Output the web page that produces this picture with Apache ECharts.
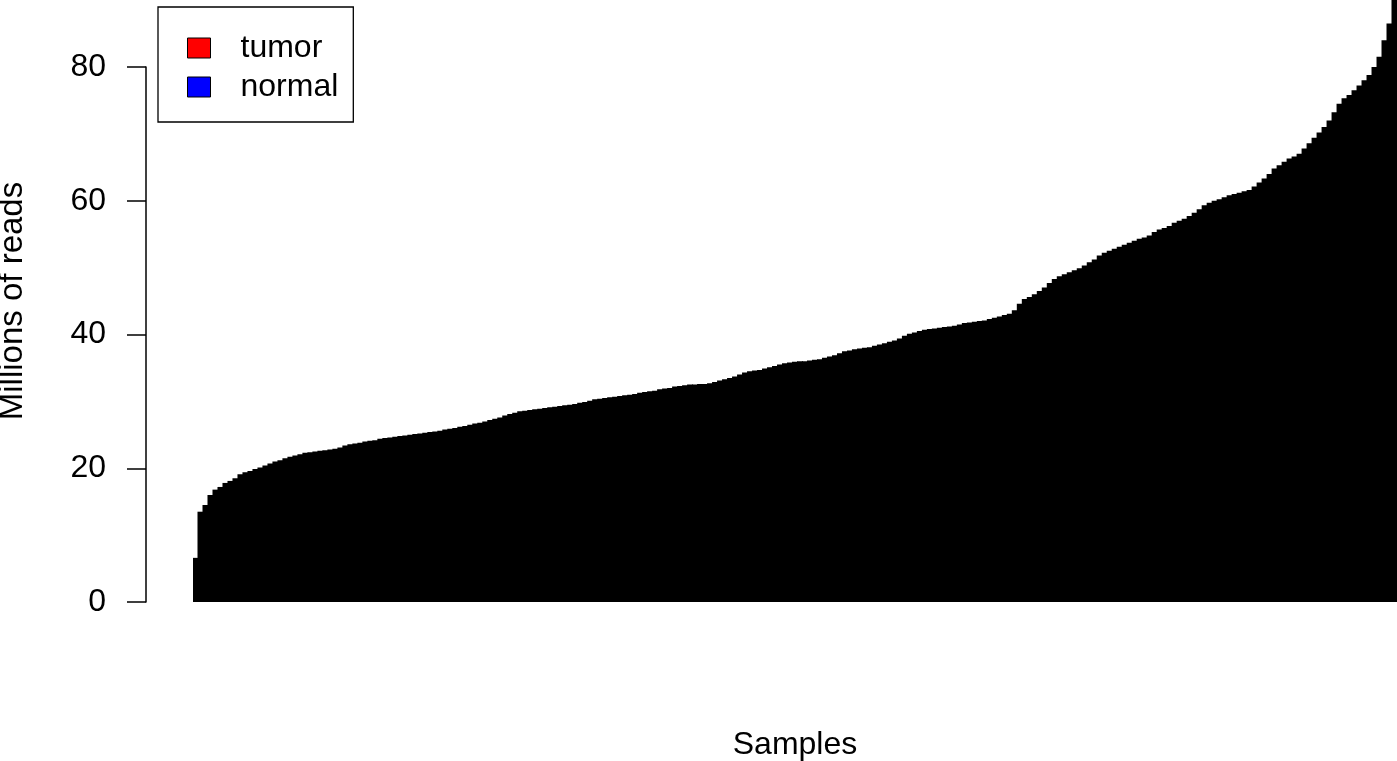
<!DOCTYPE html>
<html>
<head>
<meta charset="utf-8">
<script src="https://cdn.jsdelivr.net/npm/echarts@6/dist/echarts.min.js"></script>
<style>
  html, body { margin: 0; padding: 0; background: #fff; }
  #chart { width: 1397px; height: 761px; }
</style>
</head>
<body>
<div id="chart"></div>
<script>
// millions of reads per sample, sorted ascending
const readsMillions = [
  6.6, 13.5, 14.5, 16.0, 16.8, 17.2, 17.8, 18.1, 18.5, 19.1,
  19.4, 19.6, 19.9, 20.1, 20.4, 20.7, 21.0, 21.2, 21.5, 21.7,
  21.9, 22.1, 22.3, 22.4, 22.5, 22.6, 22.7, 22.8, 22.9, 23.1,
  23.4, 23.6, 23.7, 23.8, 24.0, 24.1, 24.2, 24.4, 24.5, 24.6,
  24.7, 24.8, 24.9, 25.0, 25.1, 25.2, 25.3, 25.4, 25.5, 25.6,
  25.8, 25.9, 26.0, 26.2, 26.3, 26.5, 26.7, 26.8, 27.0, 27.2,
  27.4, 27.6, 27.9, 28.1, 28.3, 28.5, 28.6, 28.7, 28.8, 28.9,
  29.0, 29.1, 29.2, 29.3, 29.4, 29.5, 29.6, 29.8, 29.9, 30.1,
  30.3, 30.4, 30.5, 30.6, 30.7, 30.8, 30.9, 31.0, 31.1, 31.3,
  31.4, 31.5, 31.6, 31.8, 31.9, 32.0, 32.2, 32.3, 32.4, 32.5,
  32.5, 32.6, 32.6, 32.7, 32.9, 33.1, 33.3, 33.5, 33.7, 34.0,
  34.3, 34.5, 34.6, 34.7, 34.9, 35.1, 35.3, 35.5, 35.7, 35.8,
  35.9, 36.0, 36.0, 36.1, 36.2, 36.3, 36.5, 36.7, 36.9, 37.2,
  37.5, 37.6, 37.8, 37.9, 38.0, 38.1, 38.3, 38.5, 38.7, 38.9,
  39.1, 39.4, 39.8, 40.1, 40.3, 40.5, 40.7, 40.8, 40.9, 41.0,
  41.1, 41.2, 41.3, 41.5, 41.7, 41.8, 41.9, 42.0, 42.1, 42.3,
  42.5, 42.7, 42.9, 43.1, 43.6, 44.6, 45.3, 45.6, 46.0, 46.5,
  47.0, 47.7, 48.3, 48.7, 49.0, 49.3, 49.6, 49.9, 50.3, 50.8,
  51.2, 51.8, 52.2, 52.5, 52.8, 53.1, 53.4, 53.7, 54.0, 54.3,
  54.5, 54.8, 55.3, 55.7, 55.9, 56.2, 56.7, 57.0, 57.3, 57.7,
  58.2, 58.7, 59.3, 59.7, 60.0, 60.2, 60.5, 60.8, 61.0, 61.2,
  61.4, 61.6, 62.1, 62.7, 63.3, 64.0, 64.8, 65.3, 65.8, 66.3,
  66.6, 67.0, 67.8, 68.6, 69.4, 70.2, 71.0, 72.0, 73.2, 74.5,
  75.3, 75.8, 76.5, 77.2, 78.0, 78.8, 80.0, 81.5, 84.0, 86.5,
  90.0
];
const samples = readsMillions.map((v, i) => 'S' + (i + 1));
const legendNames = ['tumor', 'normal'];
const legendColors = ['#ff0000', '#0000ff'];
const yTicks = [0, 20, 40, 60, 80];

const FONT = 'Liberation Sans, Arial, Helvetica, sans-serif';

const chart = echarts.init(document.getElementById('chart'), null, {renderer: 'canvas'});

const series = [{
    name: 'reads',
    type: 'bar',
    xAxisIndex: 0,
    yAxisIndex: 0,
    data: readsMillions,
    // bars a bit wider than their slot so no seam shows between them
    barCategoryGap: '-20%',
    itemStyle: {color: '#000'},
    silent: true
}];
// legend only entries, kept on the second grid so they take no bar slot
legendNames.forEach((name, i) => {
    series.push({
        name: name,
        type: 'scatter',
        xAxisIndex: 1,
        yAxisIndex: 1,
        data: [],
        itemStyle: {color: legendColors[i], opacity: 1}
    });
});

chart.setOption({
    animation: false,
    textStyle: {fontFamily: FONT, color: '#000'},
    grid: [
        {left: 193, right: 0, top: 0, bottom: 159, outerBoundsMode: 'none'},   // bars
        {left: 146, right: 0, top: 67, bottom: 159, outerBoundsMode: 'none'}   // R style y axis, only 0..80
    ],
    legend: {
        data: legendNames,
        orient: 'vertical',
        left: 158,
        top: 7,
        padding: [25, 15, 19, 29],
        itemGap: 7,
        itemWidth: 23,
        itemHeight: 20,
        icon: 'rect',
        borderColor: '#000',
        borderWidth: 1.3,
        borderRadius: 0,
        selectedMode: false,
        itemStyle: {borderColor: '#000', borderWidth: 1, opacity: 1},
        textStyle: {fontFamily: FONT, fontSize: 32, color: '#000', padding: [0, 0, 0, 25]}
    },
    xAxis: [{
        gridIndex: 0,
        type: 'category',
        data: samples,
        axisLine: {show: false},
        axisTick: {show: false},
        axisLabel: {show: false},
        name: 'Samples',
        nameLocation: 'middle',
        nameGap: 127,
        nameTextStyle: {fontFamily: FONT, fontSize: 32, color: '#000'}
    }, {
        gridIndex: 1,
        type: 'value',
        show: false
    }],
    yAxis: [{
        gridIndex: 0,
        type: 'value',
        min: 0,
        max: 90,
        offset: 47,
        splitLine: {show: false},
        axisLine: {show: false},
        axisTick: {show: false},
        axisLabel: {show: false},
        name: 'Millions of reads',
        nameLocation: 'middle',
        nameGap: 117,
        nameTextStyle: {fontFamily: FONT, fontSize: 33, color: '#000'}
    }, {
        gridIndex: 1,
        type: 'value',
        min: yTicks[0],
        max: yTicks[yTicks.length - 1],
        interval: 20,
        splitLine: {show: false},
        axisLine: {show: true, lineStyle: {color: '#000', width: 1.5}},
        axisTick: {show: true, length: 19, lineStyle: {color: '#000', width: 1.5}},
        axisLabel: {margin: 40, fontFamily: FONT, fontSize: 32, color: '#000'}
    }],
    series: series
});
</script>
</body>
</html>
